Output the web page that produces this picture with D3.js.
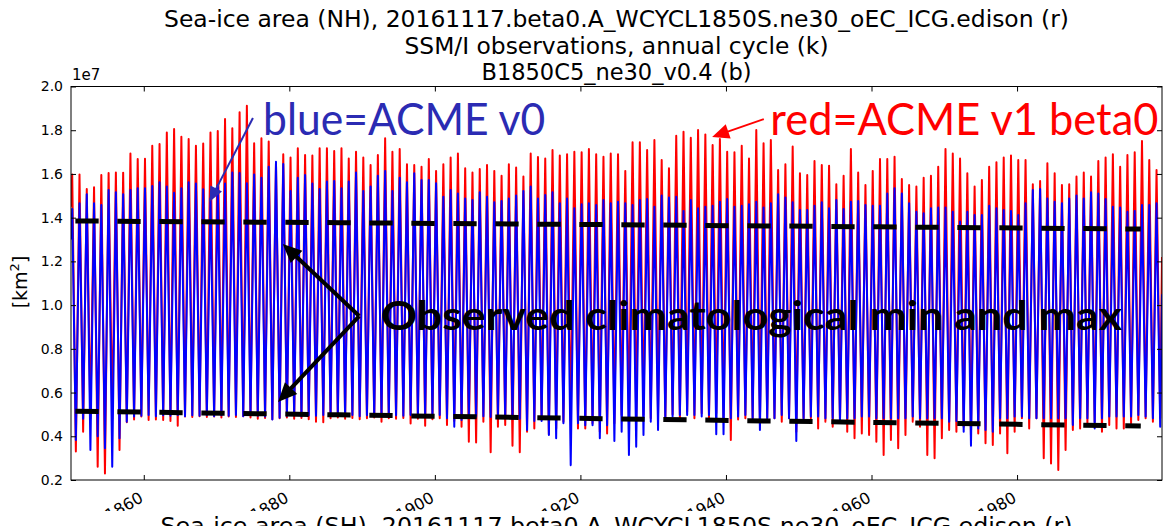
<!DOCTYPE html>
<html lang="en">
<head>
  <meta charset="UTF-8">
  <title>Sea-ice area (NH)</title>
  <script src="https://d3js.org/d3.v7.min.js"></script>
  <style>
    body { margin: 0; background: #fff; }
    svg { display: block; }
    .axis path { display: none; }
    .axis line { stroke: #000; stroke-width: 1; }
    .axis text { font-family: "DejaVu Sans", sans-serif; font-size: 14px; fill: #000; }
    .title { font-family: "DejaVu Sans", sans-serif; font-size: 23px; text-anchor: middle; fill: #000; }
    .note { font-family: Lato, "Open Sans", sans-serif; }
  </style>
</head>
<body>
  <div id="chart"></div>

  <script>
    // one value per year, 1850..1999 (annual max in March, annual min in September)
    const years = d3.range(1850, 2000);

    const redMax = [
      1.598, 1.598, 1.531, 1.539, 1.595, 1.604, 1.607, 1.606, 1.694, 1.668, 1.670, 1.729, 1.737, 1.790, 1.806, 1.770, 1.760, 1.729, 1.739, 1.790, 1.796, 1.851, 1.809, 1.882, 1.912,
      1.740, 1.763, 1.748, 1.649, 1.690, 1.675, 1.717, 1.687, 1.684, 1.717, 1.717, 1.705, 1.717, 1.671, 1.702, 1.675, 1.641, 1.687, 1.763, 1.702, 1.714, 1.644, 1.641, 1.633, 1.668,
      1.614, 1.644, 1.675, 1.694, 1.626, 1.607, 1.623, 1.641, 1.614, 1.592, 1.644, 1.629, 1.588, 1.694, 1.678, 1.671, 1.710, 1.684, 1.690, 1.702, 1.699, 1.714, 1.690, 1.679, 1.694,
      1.690, 1.614, 1.745, 1.745, 1.710, 1.755, 1.664, 1.626, 1.775, 1.793, 1.766, 1.801, 1.781, 1.732, 1.760, 1.702, 1.699, 1.729, 1.671, 1.801, 1.740, 1.755, 1.618, 1.644, 1.725,
      1.603, 1.595, 1.659, 1.641, 1.638, 1.553, 1.592, 1.714, 1.607, 1.549, 1.614, 1.668, 1.668, 1.679, 1.577, 1.549, 1.542, 1.583, 1.592, 1.633, 1.714, 1.694, 1.671, 1.603, 1.542,
      1.572, 1.633, 1.653, 1.675, 1.684, 1.664, 1.664, 1.553, 1.568, 1.649, 1.603, 1.549, 1.553, 1.588, 1.607, 1.588, 1.659, 1.675, 1.690, 1.633, 1.687, 1.699, 1.751, 1.664, 1.618
    ];
    const redMin = [
      0.330, 0.421, 0.480, 0.261, 0.230, 0.480, 0.337, 0.464, 0.477, 0.490, 0.474, 0.477, 0.474, 0.470, 0.448, 0.490, 0.488, 0.492, 0.488, 0.490, 0.486, 0.490, 0.488, 0.492, 0.486,
      0.480, 0.484, 0.478, 0.482, 0.486, 0.480, 0.484, 0.478, 0.467, 0.464, 0.482, 0.486, 0.480, 0.484, 0.478, 0.482, 0.486, 0.467, 0.482, 0.480, 0.484, 0.459, 0.480, 0.448, 0.478,
      0.482, 0.452, 0.470, 0.444, 0.375, 0.372, 0.467, 0.327, 0.444, 0.452, 0.357, 0.327, 0.421, 0.436, 0.482, 0.409, 0.436, 0.467, 0.470, 0.436, 0.436, 0.459, 0.421, 0.413, 0.460,
      0.497, 0.482, 0.482, 0.497, 0.482, 0.505, 0.482, 0.500, 0.482, 0.512, 0.482, 0.505, 0.482, 0.505, 0.482, 0.383, 0.477, 0.482, 0.482, 0.467, 0.482, 0.482, 0.467, 0.482, 0.421,
      0.474, 0.482, 0.436, 0.467, 0.444, 0.467, 0.421, 0.391, 0.413, 0.406, 0.375, 0.314, 0.383, 0.345, 0.406, 0.467, 0.444, 0.314, 0.299, 0.391, 0.429, 0.421, 0.444, 0.406, 0.413,
      0.368, 0.360, 0.413, 0.322, 0.421, 0.482, 0.436, 0.482, 0.299, 0.276, 0.246, 0.337, 0.429, 0.436, 0.459, 0.467, 0.421, 0.452, 0.436, 0.436, 0.459, 0.474, 0.482, 0.467, 0.482
    ];
    const blueMax = [
      1.440, 1.466, 1.507, 1.466, 1.458, 1.527, 1.516, 1.507, 1.527, 1.534, 1.534, 1.545, 1.562, 1.543, 1.514, 1.534, 1.562, 1.556, 1.530, 1.488, 1.549, 1.556, 1.607, 1.604, 1.557,
      1.598, 1.583, 1.633, 1.656, 1.645, 1.522, 1.583, 1.595, 1.556, 1.531, 1.565, 1.568, 1.534, 1.565, 1.607, 1.522, 1.542, 1.592, 1.614, 1.522, 1.583, 1.562, 1.603, 1.572, 1.572,
      1.557, 1.496, 1.527, 1.511, 1.488, 1.481, 1.516, 1.496, 1.470, 1.476, 1.488, 1.501, 1.522, 1.542, 1.488, 1.504, 1.516, 1.466, 1.488, 1.443, 1.461, 1.466, 1.458, 1.481, 1.466,
      1.473, 1.466, 1.458, 1.481, 1.485, 1.450, 1.501, 1.492, 1.496, 1.431, 1.481, 1.443, 1.450, 1.455, 1.473, 1.485, 1.450, 1.455, 1.461, 1.473, 1.446, 1.466, 1.507, 1.492, 1.470,
      1.435, 1.435, 1.455, 1.470, 1.443, 1.481, 1.440, 1.473, 1.476, 1.458, 1.455, 1.455, 1.511, 1.534, 1.511, 1.466, 1.427, 1.420, 1.443, 1.446, 1.446, 1.427, 1.382, 1.427, 1.412,
      1.412, 1.455, 1.443, 1.435, 1.431, 1.412, 1.466, 1.527, 1.531, 1.488, 1.473, 1.466, 1.488, 1.501, 1.488, 1.516, 1.511, 1.485, 1.450, 1.446, 1.427, 1.431, 1.458, 1.458, 1.466
    ];
    const blueMin = [
      0.383, 0.480, 0.337, 0.400, 0.345, 0.261, 0.391, 0.467, 0.490, 0.494, 0.497, 0.492, 0.496, 0.494, 0.497, 0.492, 0.496, 0.494, 0.497, 0.492, 0.496, 0.494, 0.497, 0.492, 0.496,
      0.494, 0.490, 0.477, 0.485, 0.494, 0.497, 0.492, 0.496, 0.494, 0.497, 0.492, 0.496, 0.494, 0.497, 0.492, 0.496, 0.494, 0.497, 0.492, 0.496, 0.494, 0.497, 0.492, 0.496, 0.494,
      0.497, 0.482, 0.444, 0.474, 0.490, 0.490, 0.492, 0.488, 0.490, 0.485, 0.480, 0.480, 0.429, 0.470, 0.470, 0.406, 0.391, 0.460, 0.268, 0.460, 0.450, 0.450, 0.391, 0.450, 0.378,
      0.421, 0.314, 0.352, 0.406, 0.467, 0.429, 0.482, 0.490, 0.497, 0.497, 0.497, 0.490, 0.497, 0.409, 0.409, 0.482, 0.490, 0.497, 0.482, 0.429, 0.482, 0.482, 0.497, 0.482, 0.378,
      0.482, 0.490, 0.490, 0.482, 0.482, 0.467, 0.482, 0.482, 0.490, 0.490, 0.482, 0.482, 0.482, 0.482, 0.482, 0.490, 0.482, 0.482, 0.482, 0.482, 0.467, 0.470, 0.421, 0.357, 0.436,
      0.429, 0.421, 0.482, 0.482, 0.490, 0.490, 0.482, 0.482, 0.482, 0.482, 0.482, 0.482, 0.452, 0.482, 0.482, 0.436, 0.482, 0.490, 0.490, 0.490, 0.490, 0.497, 0.490, 0.482, 0.444
    ];
    // January 1850 and December 1999 values
    const redEnds = [1.45, 1.22];
    const blueEnds = [1.30, 1.05];

    // observed climatological max / min (dashed black)
    const obsYears = [1850.6, 1887, 1924, 1961, 1997];
    const obsMax = [1.385, 1.377, 1.368, 1.358, 1.348];
    const obsMin = [0.515, 0.498, 0.480, 0.463, 0.447];

    const xTicks = [1860, 1880, 1900, 1920, 1940, 1960, 1980];
    const yTicks = [0.2, 0.4, 0.6, 0.8, 1.0, 1.2, 1.4, 1.6, 1.8, 2.0];

    const titles = [
      'Sea-ice area (NH), 20161117.beta0.A_WCYCL1850S.ne30_oEC_ICG.edison (r)',
      'SSM/I observations, annual cycle (k)',
      'B1850C5_ne30_v0.4 (b)'
    ];
    const titleWidths = [905, 424, 270];
    const nextTitle = 'Sea-ice area (SH), 20161117.beta0.A_WCYCL1850S.ne30_oEC_ICG.edison (r)';

    const width = 1166;
    const height = 526;
    const margin = { top: 86.5, right: 4, bottom: 46, left: 71 };
    const innerWidth = width - margin.left - margin.right;
    const innerHeight = height - margin.top - margin.bottom;

    const svg = d3.select('#chart')
      .append('svg')
      .attr('width', width)
      .attr('height', height);

    const g = svg.append('g')
      .attr('transform', `translate(${margin.left}, ${margin.top})`);

    const xScale = d3.scaleLinear().domain([1850, 1999 + 11 / 12]).range([0, innerWidth]);
    const yScale = d3.scaleLinear().domain([0.2, 2.0]).range([innerHeight, 0]);

    g.append('clipPath').attr('id', 'plot')
      .append('rect').attr('width', innerWidth).attr('height', innerHeight);

    // build the cycle: peak in March, trough in September
    function cycle(maxs, mins, ends) {
      const pts = [{ t: years[0], v: ends[0] }];
      years.forEach((yr, i) => {
        pts.push({ t: yr + 2 / 12, v: maxs[i] });
        pts.push({ t: yr + 8 / 12, v: mins[i] });
      });
      pts.push({ t: years[years.length - 1] + 11 / 12, v: ends[1] });
      return pts;
    }

    const line = d3.line()
      .x(d => xScale(d.t))
      .y(d => yScale(d.v));

    const plot = g.append('g').attr('clip-path', 'url(#plot)');

    plot.append('path')
      .datum(cycle(redMax, redMin, redEnds))
      .attr('fill', 'none')
      .attr('stroke', '#ff0000')
      .attr('stroke-width', 2)
      .attr('stroke-linejoin', 'round')
      .attr('d', line);

    plot.append('path')
      .datum(cycle(blueMax, blueMin, blueEnds))
      .attr('fill', 'none')
      .attr('stroke', '#0000ff')
      .attr('stroke-width', 2)
      .attr('stroke-linejoin', 'round')
      .attr('d', line);

    [obsMax, obsMin].forEach(vals => {
      plot.append('path')
        .datum(obsYears.map((t, i) => ({ t, v: vals[i] })))
        .attr('fill', 'none')
        .attr('stroke', '#000')
        .attr('stroke-width', 5)
        .attr('stroke-dasharray', '23.3 18.7')
        .attr('d', line);
    });

    // axes, ticks pointing inward on all sides
    const xb = g.append('g').attr('class', 'axis')
      .attr('transform', `translate(0, ${innerHeight})`)
      .call(d3.axisBottom(xScale).tickValues(xTicks).tickSizeInner(-5).tickSizeOuter(0).tickFormat(d3.format('d')));
    xb.selectAll('text')
      .attr('y', 0)
      .attr('dy', 0)
      .attr('transform', 'translate(0, 21) rotate(-30)')
      .style('font-size', '16px')
      .style('text-anchor', 'end');

    g.append('g').attr('class', 'axis')
      .call(d3.axisTop(xScale).tickValues(xTicks).tickSizeInner(-5).tickSizeOuter(0).tickFormat(''));

    g.append('g').attr('class', 'axis')
      .call(d3.axisLeft(yScale).tickValues(yTicks).tickSizeInner(-5).tickSizeOuter(0).tickPadding(8).tickFormat(d3.format('.1f')));

    g.append('g').attr('class', 'axis')
      .attr('transform', `translate(${innerWidth}, 0)`)
      .call(d3.axisRight(yScale).tickValues(yTicks).tickSizeInner(-5).tickSizeOuter(0).tickFormat(''));

    g.append('rect')
      .attr('width', innerWidth)
      .attr('height', innerHeight)
      .attr('fill', 'none')
      .attr('stroke', '#000')
      .attr('stroke-width', 1);

    // offset label
    g.append('text')
      .attr('x', 1)
      .attr('y', -7)
      .style('font-family', '"DejaVu Sans", sans-serif')
      .style('font-size', '15px')
      .text('1e7');

    // y-axis label
    const yl = svg.append('text')
      .attr('transform', `translate(27, 282) rotate(-90)`)
      .attr('text-anchor', 'middle')
      .style('font-family', '"DejaVu Sans", sans-serif')
      .style('font-size', '19px');
    yl.append('tspan').text('[km');
    yl.append('tspan').attr('dy', -8).style('font-size', '13px').text('2');
    yl.append('tspan').attr('dy', 8).text(']');

    // titles
    titles.forEach((t, i) => {
      svg.append('text')
        .attr('class', 'title')
        .attr('x', margin.left + innerWidth / 2)
        .attr('y', 27 + i * 26.5)
        .attr('textLength', titleWidths[i])
        .attr('lengthAdjust', 'spacingAndGlyphs')
        .text(t);
    });

    // the next panel starts just below, hiding the lower part of the tick labels
    svg.append('rect')
      .attr('x', 0)
      .attr('y', 511)
      .attr('width', width)
      .attr('height', height - 511)
      .attr('fill', '#fff');
    svg.append('text')
      .attr('class', 'title')
      .attr('x', margin.left + innerWidth / 2)
      .attr('y', 534)
      .attr('textLength', 912)
      .attr('lengthAdjust', 'spacingAndGlyphs')
      .text(nextTitle);

    // pasted-on annotations, placed in data units
    const notes = [
      { text: 'blue=ACME v0', t: 1876.4, v: 1.778, color: '#2b2bb3', weight: 400, size: 44, len: 282 },
      { text: 'red=ACME v1 beta0', t: 1946.1, v: 1.778, color: '#ff0000', weight: 400, size: 44, len: 388 },
      { text: 'Observed climatological min and max', t: 1892.6, v: 0.886, color: '#000', weight: 700, size: 41, len: 741 }
    ];
    const arrows = [
      { from: [1875.0, 1.856], to: [1869.0, 1.472], color: '#2b2bb3', w: 2, head: 15, half: 6.5 },
      { from: [1945.2, 1.851], to: [1938.1, 1.769], color: '#ff0000', w: 2, head: 17, half: 7.5 },
      { from: [1889.6, 0.950], to: [1879.1, 1.280], color: '#000', w: 4, head: 19, half: 8.5 },
      { from: [1889.6, 0.950], to: [1878.45, 0.557], color: '#000', w: 4, head: 19, half: 8.5 }
    ];

    arrows.forEach(a => {
      const x0 = xScale(a.from[0]), y0 = yScale(a.from[1]);
      const x1 = xScale(a.to[0]), y1 = yScale(a.to[1]);
      const len = Math.hypot(x1 - x0, y1 - y0);
      const ux = (x1 - x0) / len, uy = (y1 - y0) / len;
      const bx = x1 - ux * a.head, by = y1 - uy * a.head;
      g.append('line')
        .attr('x1', x0).attr('y1', y0)
        .attr('x2', bx + ux * 2).attr('y2', by + uy * 2)
        .attr('stroke', a.color)
        .attr('stroke-width', a.w);
      g.append('polygon')
        .attr('points', [
          [x1, y1],
          [bx - uy * a.half, by + ux * a.half],
          [bx + uy * a.half, by - ux * a.half]
        ].map(p => p.join(',')).join(' '))
        .attr('fill', a.color);
    });

    notes.forEach(n => {
      g.append('text')
        .attr('class', 'note')
        .attr('x', xScale(n.t))
        .attr('y', yScale(n.v))
        .attr('fill', n.color)
        .attr('textLength', n.len)
        .attr('lengthAdjust', 'spacingAndGlyphs')
        .style('font-size', n.size + 'px')
        .style('font-weight', n.weight)
        .text(n.text);
    });
  </script>
</body>
</html>
